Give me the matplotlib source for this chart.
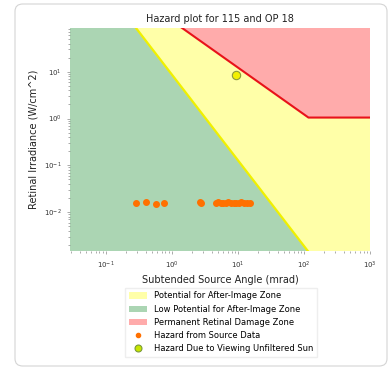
import numpy as np
import matplotlib
matplotlib.use("Agg")
import matplotlib.pyplot as plt
from matplotlib.patches import FancyBboxPatch, Patch
from matplotlib.lines import Line2D

# ============================================================
# DATA
# ============================================================
# threshold lines: subtended angle (mrad) vs retinal irradiance (W/cm^2)
afterimage_angle = [0.01, 1000]
afterimage_E     = [4.0e4, 2.8e-5]

damage_angle = [0.01, 117, 1000]
damage_E     = [12300, 1.05, 1.05]

# hazard points from the source data
source_angle = [0.287, 0.41, 0.58, 0.77, 2.65, 2.75,
                4.6, 5.0, 5.5, 6.0, 6.6, 7.2, 7.9, 8.6, 9.4, 10.3, 11.3, 12.4, 13.6, 15.0]
source_E     = [0.0158, 0.0165, 0.0150, 0.0157, 0.0162, 0.0158,
                0.0160, 0.0162, 0.0158, 0.0160, 0.0157, 0.0161, 0.0159, 0.0156, 0.0160,
                0.0158, 0.0161, 0.0157, 0.0159, 0.0160]

# unfiltered sun
sun_angle = [9.3]
sun_E     = [8.6]

title = "Hazard plot for 115 and OP 18"
xlabel = "Subtended Source Angle (mrad)"
ylabel = "Retinal Irradiance (W/cm^2)"
# ============================================================

xlim = (0.0287, 1000)
ylim = (0.00148, 86)
y_floor, y_ceil = 1e-8, 1e8

col_green = "#abd5b3"
col_yellow = "#ffffa8"
col_pink = "#ffabab"

fig = plt.figure(figsize=(3.89, 3.70), dpi=100)

# card frame around the chart
card = FancyBboxPatch((15 / 389, 4 / 370), 372 / 389, 362 / 370,
                      boxstyle="round,pad=0,rounding_size=0.02",
                      transform=fig.transFigure, facecolor="white",
                      edgecolor="#d4d4d4", linewidth=0.8, zorder=-10)
fig.patches.append(card)

ax = fig.add_axes([70 / 389, 1 - 251 / 370, 300 / 389, 223 / 370])
ax.set_xscale("log")
ax.set_yscale("log")

# zones as polygons so edges stay straight on log axes
ax.fill(afterimage_angle + [afterimage_angle[-1], afterimage_angle[0]],
        afterimage_E + [y_floor, y_floor], color=col_green, lw=0, zorder=1)
ax.fill(afterimage_angle + damage_angle[::-1],
        afterimage_E + damage_E[::-1], color=col_yellow, lw=0, zorder=1)
ax.fill(damage_angle + [damage_angle[-1], damage_angle[0]],
        damage_E + [y_ceil, y_ceil], color=col_pink, lw=0, zorder=1)

ax.plot(afterimage_angle, afterimage_E, color="#f0f000", lw=1.6, zorder=2)
ax.plot(damage_angle, damage_E, color="#e8121a", lw=1.5, zorder=2)

ax.scatter(source_angle, source_E, s=16, color="#ff7000", zorder=3)
ax.scatter(sun_angle, sun_E, s=36, color="#f2f000", edgecolor="#8a9a3a",
           linewidth=0.8, zorder=4)

ax.set_xlim(xlim)
ax.set_ylim(ylim)

for s in ax.spines.values():
    s.set_visible(False)
ax.tick_params(which="both", colors="#888888", labelcolor="#333333",
               labelsize=5, length=2.5, width=0.5)
ax.tick_params(which="minor", length=1.5)

ax.set_title(title, fontsize=7, color="#222222", pad=4)
ax.set_xlabel(xlabel, fontsize=7, color="#222222", labelpad=3)
ax.set_ylabel(ylabel, fontsize=7, color="#222222", labelpad=4)

handles = [
    Patch(facecolor=col_yellow, label="Potential for After-Image Zone"),
    Patch(facecolor=col_green, label="Low Potential for After-Image Zone"),
    Patch(facecolor=col_pink, label="Permanent Retinal Damage Zone"),
    Line2D([], [], ls="", marker="o", ms=3, color="#ff7000",
           label="Hazard from Source Data"),
    Line2D([], [], ls="", marker="o", ms=5, markerfacecolor="#c8e600",
           markeredgecolor="#7a9a3a", markeredgewidth=0.8,
           label="Hazard Due to Viewing Unfiltered Sun"),
]
fig.legend(handles=handles, loc="upper center", bbox_to_anchor=(221 / 389, 1 - 284 / 370),
           fontsize=6, frameon=True, edgecolor="#eeeeee", framealpha=1,
           handlelength=2.2, handleheight=0.8, labelspacing=0.5,
           borderpad=0.4, fancybox=False)

fig.savefig("out.png", dpi=100)
